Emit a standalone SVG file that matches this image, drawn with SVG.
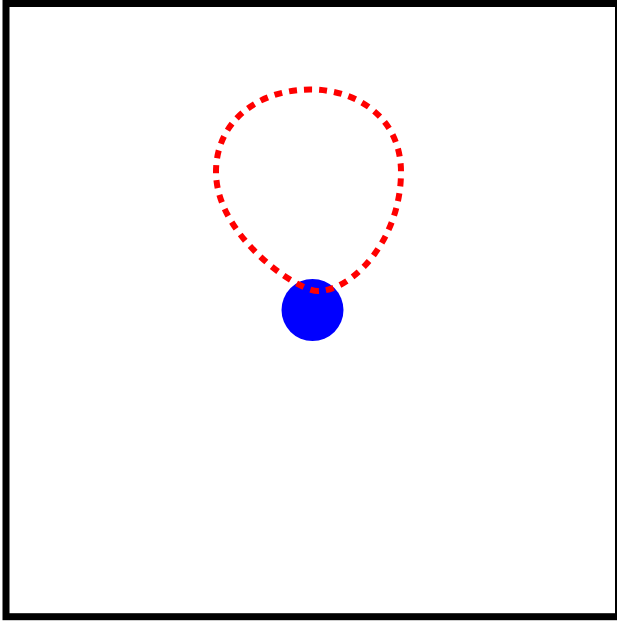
<svg xmlns="http://www.w3.org/2000/svg" width="617" height="621" viewBox="0 0 617 621">
<style>
.frame{fill:#fff;stroke:#000;stroke-width:7}
.loop{fill:none;stroke:#f00;stroke-width:6;stroke-dasharray:8,7}
.node{fill:#00f}
</style>
<rect class="frame" x="6" y="3.5" width="612.5" height="613.2"/>
<g id="node1">
<circle class="node" cx="312.5" cy="310" r="31"/>
</g>
<g id="connectors">
<path class="loop" d="M 318 291 C 296 291, 216 235, 216 172 C 216 120, 260 89.5, 310 89.5 C 360 89.5, 401 120, 401 172 C 401 240, 352 291, 318 291 Z"/>
</g>
</svg>
